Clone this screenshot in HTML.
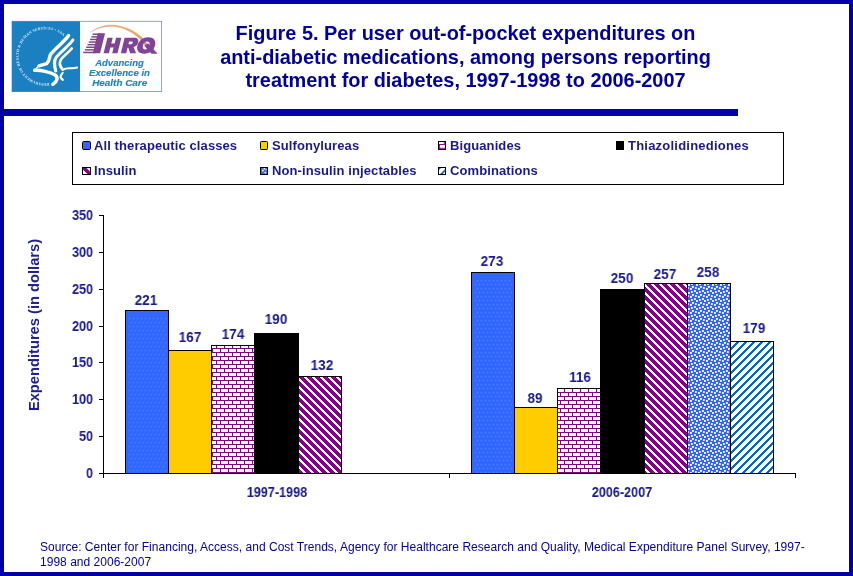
<!DOCTYPE html>
<html>
<head>
<meta charset="utf-8">
<title>Figure 5</title>
<style>
html,body{margin:0;padding:0;}
body{width:853px;height:576px;position:relative;overflow:hidden;background:#fff;font-family:"Liberation Sans",sans-serif;}
.frame{position:absolute;left:0;top:0;width:845px;height:568px;border:4px solid #0000a8;}
.hbar{position:absolute;left:0;top:109px;width:738px;height:7px;background:#0000a8;}
.title{position:absolute;left:0;width:931px;top:21.8px;text-align:center;font-weight:bold;font-size:19.9px;line-height:23.6px;color:#0000a0;white-space:nowrap;}
.legend{position:absolute;left:72px;top:132px;width:710px;height:51px;border:1px solid #000;}
.lg{position:absolute;font-weight:bold;font-size:13px;color:#1a1a90;white-space:nowrap;line-height:14px;letter-spacing:0.1px;}
.sw{position:absolute;width:7px;height:7px;border:1px solid #000;}
.tick{position:absolute;font-weight:bold;font-size:14px;color:#1a1a90;white-space:nowrap;line-height:14px;width:40px;text-align:right;transform-origin:100% 50%;transform:scaleX(0.9);}
.dl{position:absolute;font-weight:bold;font-size:14px;color:#1a1a90;white-space:nowrap;line-height:14px;width:44px;text-align:center;transform:scaleX(0.96);}
.cat{position:absolute;font-weight:bold;font-size:14px;color:#1a1a90;white-space:nowrap;line-height:14px;width:120px;text-align:center;transform:scaleX(0.9);}
.ytitle{position:absolute;font-weight:bold;font-size:14.7px;color:#1e1e96;white-space:nowrap;line-height:16px;width:200px;height:16px;text-align:center;left:-66.5px;top:316.5px;transform:rotate(-90deg);}
.src{position:absolute;left:40px;top:539.5px;font-size:12px;line-height:14.6px;color:#0000a0;white-space:nowrap;letter-spacing:0.02px;}
svg{position:absolute;left:0;top:0;}
.title,.lg,.tick,.dl,.cat,.ytitle,.src,#logo{will-change:transform;}
</style>
</head>
<body>
<div class="frame"></div>
<div class="hbar"></div>

<div class="title">Figure 5. Per user out-of-pocket expenditures on<br>anti-diabetic medications, among persons reporting<br>treatment for diabetes, 1997-1998 to 2006-2007</div>

<!-- logo -->
<svg id="logo" width="170" height="100" viewBox="0 0 170 100" style="left:0;top:0;">
<defs>
<linearGradient id="arcg" x1="0" y1="0" x2="1" y2="0">
<stop offset="0" stop-color="#dba6b4"/><stop offset="0.4" stop-color="#ecb070"/><stop offset="0.8" stop-color="#e8a868"/><stop offset="1" stop-color="#dc8890"/>
</linearGradient>
<path id="ring" d="M 49.3,83 A 27,27 0 1 1 64.6,37.2"/>
</defs>
<rect x="12" y="21.3" width="149.6" height="70.3" fill="#fff" stroke="#4d9fd6" stroke-width="0.8"/>
<rect x="12" y="21.3" width="68" height="70.4" fill="#1b80c2"/>
<text font-family="Liberation Serif" font-size="3.7" font-weight="bold" fill="#dcebf7" textLength="108" lengthAdjust="spacing"><textPath href="#ring" textLength="108" lengthAdjust="spacing">DEPARTMENT OF HEALTH &amp; HUMAN SERVICES &#8226; USA</textPath></text>
<g transform="translate(28,28) scale(0.11111)" fill="none" stroke="#fff" stroke-linecap="round" stroke-linejoin="round">
<path d="M366,68 C330,120 250,180 207,232 C187,262 199,296 168,320 L100,340" stroke-width="31"/>
<path d="M404,108 C370,160 290,215 251,268 C231,298 236,330 249,386" stroke-width="28"/>
<path d="M394,184 C370,215 320,250 296,285 C280,312 286,345 312,374" stroke-width="24"/>
<path d="M316,374 C350,350 400,372 442,356" stroke-width="19"/>
<path d="M60,381 C110,378 200,395 243,422 C273,445 266,478 224,508" stroke-width="31"/>
<path d="M312,404 C295,425 279,445 314,466" stroke-width="19"/>
<path d="M100,340 L60,378" stroke-width="14"/>
</g>
<!-- arc -->
<path d="M90.4,32.4 C96,27.3 104,24.8 112,24.9 C124,25.2 135.5,31 142,37.6 C144,39.7 145.8,42.2 147.3,44.4 L145,45.2 C143.4,43 141.8,41 140.1,39.2 C133.8,33 123.5,26.9 112,26.5 C104,26.3 96.5,28.4 90.4,32.4 Z" fill="url(#arcg)" stroke="url(#arcg)" stroke-width="0.25"/>
<!-- AHRQ -->
<g transform="translate(0,53.25) skewX(-14) translate(0,-53.25)" fill="#814494">
<!-- A right leg -->
<rect x="92.8" y="33.3" width="7.3" height="19.95"/>
<!-- H -->
<rect x="103.6" y="37.8" width="5.3" height="15.45"/><rect x="112.2" y="37.8" width="5.3" height="15.45"/><rect x="107" y="43.4" width="7" height="4"/>
<!-- R -->
<g transform="translate(-1.2,0)"><path fill-rule="evenodd" d="M122,37.8 H131.8 C134.9,37.8 136.7,39.6 136.7,42.6 C136.7,45 135.4,46.6 133.2,47.1 L137.3,53.25 H131.4 L128.2,47.8 H127.4 V53.25 H122 Z M127.4,41.4 V44.2 H130 C131.1,44.2 131.3,43.6 131.3,42.8 C131.3,42 131,41.4 130,41.4 Z"/></g>
<!-- Q ring -->
<path fill-rule="evenodd" d="M144.3,37.2 C149.6,37.2 153.1,40.5 153.1,45.5 C153.1,50.5 149.6,53.7 144.3,53.7 C139,53.7 135.5,50.5 135.5,45.5 C135.5,40.5 139,37.2 144.3,37.2 Z M144.3,41.6 C142.2,41.6 141,43.1 141,45.5 C141,47.9 142.2,49.4 144.3,49.4 C146.4,49.4 147.6,47.9 147.6,45.5 C147.6,43.1 146.4,41.6 144.3,41.6 Z"/>
</g>
<!-- Q tail -->
<path d="M144.2,45.8 L148.2,43.2 L157.6,53.8 H151.6 Z" fill="#814494"/>
<!-- A stripes -->
<g fill="#814494">
<rect x="92.6" y="33.5" width="8" height="1.5"/>
<rect x="91.4" y="36.1" width="8" height="1.5"/>
<rect x="90.1" y="38.7" width="8.5" height="1.5"/>
<rect x="88.8" y="41.3" width="9" height="1.5"/>
<rect x="87.5" y="43.9" width="9.5" height="1.5"/>
<rect x="86.2" y="46.5" width="10" height="1.5"/>
<rect x="84.9" y="49.1" width="10.5" height="1.5"/>
<rect x="83.2" y="51.7" width="12" height="1.55"/>
</g>
<g fill="#1f84c4" stroke="#1f84c4" stroke-width="0.15" font-family="Liberation Sans" font-weight="bold" font-style="italic" font-size="9.8">
<text x="95.2" y="66" textLength="48.6" lengthAdjust="spacingAndGlyphs">Advancing</text>
<text x="89" y="76" textLength="61" lengthAdjust="spacingAndGlyphs">Excellence in</text>
<text x="92.2" y="85.9" textLength="55" lengthAdjust="spacingAndGlyphs">Health Care</text>
</g>
</svg>

<!-- chart -->
<svg id="chart" width="853" height="576" viewBox="0 0 853 576" shape-rendering="crispEdges">
<defs>
<pattern id="pDots" width="8" height="8" patternUnits="userSpaceOnUse" x="0" y="6">
  <rect width="8" height="8" fill="#3366ff"/>
  <g fill="#3399f0" shape-rendering="geometricPrecision"><rect x="0.8" y="0" width="1.2" height="1.2"/><rect x="4.8" y="0" width="1.2" height="1.2"/><rect x="2.8" y="4" width="1.2" height="1.2"/><rect x="6.8" y="4" width="1.2" height="1.2"/></g>
</pattern>
<pattern id="pDots2" href="#pDots" y="0"/>
<pattern id="pBrick" width="8" height="8" patternUnits="userSpaceOnUse" x="0" y="0">
  <rect width="8" height="8" fill="#fff"/>
  <rect x="0" y="0" width="8" height="1" fill="#800080"/>
  <rect x="0" y="4" width="8" height="1" fill="#800080"/>
  <rect x="0" y="0" width="1" height="4" fill="#800080"/>
  <rect x="4" y="4" width="1" height="4" fill="#800080"/>
</pattern>
<pattern id="pDown" width="8" height="8" patternUnits="userSpaceOnUse" x="0" y="7">
  <rect width="8" height="8" fill="#fff"/>
  <path d="M0,0 L5,0 L13,8 L8,8 Z M-8,0 L-3,0 L5,8 L0,8 Z" fill="#850088"/>
</pattern>
<pattern id="pUp" width="8" height="8" patternUnits="userSpaceOnUse" x="2" y="5">
  <rect width="8" height="8" fill="#fff"/>
  <path d="M-1,8 L2,8 L10,0 L7,0 Z" fill="#0066d0"/>
  <path d="M-9,8 L-6,8 L2,0 L-1,0 Z" fill="#0066d0"/>
  <path d="M7,8 L10,8 L18,0 L15,0 Z" fill="#0066d0"/>
</pattern>
<pattern id="pPct" width="8" height="8" patternUnits="userSpaceOnUse" x="0" y="0">
  <rect width="8" height="8" fill="#2f62ff"/>
  <g fill="#fff" shape-rendering="geometricPrecision"><rect x="0.03" y="4.04" width="1.85" height="1.85"/><rect x="3.98" y="6.00" width="1.85" height="1.85"/><rect x="-1.06" y="-0.86" width="1.85" height="1.85"/><rect x="-1.06" y="7.13" width="1.85" height="1.85"/><rect x="6.94" y="-0.86" width="1.85" height="1.85"/><rect x="6.94" y="7.13" width="1.85" height="1.85"/><rect x="2.00" y="-0.03" width="1.85" height="1.85"/><rect x="2.00" y="7.97" width="1.85" height="1.85"/><rect x="5.95" y="2.08" width="1.85" height="1.85"/><rect x="2.97" y="3.08" width="1.85" height="1.85"/></g>
</pattern>
</defs>
<!-- bars group 1 -->
<g stroke="#000" stroke-width="1">
<rect x="125.5" y="310.5" width="43" height="163" fill="#3366ff"/><rect x="128" y="317" width="38" height="156" fill="url(#pDots)" stroke="none"/>
<rect x="168.5" y="350.5" width="43" height="123" fill="#ffcc00"/>
<rect x="211.5" y="345.5" width="43" height="128" fill="url(#pBrick)"/>
<rect x="254.5" y="333.5" width="44" height="140" fill="#000"/>
<rect x="298.5" y="376.5" width="43" height="97" fill="url(#pDown)"/>
<!-- group 2 -->
<rect x="471.5" y="272.5" width="43" height="201" fill="#3366ff"/><rect x="474" y="280" width="38" height="193" fill="url(#pDots2)" stroke="none"/>
<rect x="514.5" y="407.5" width="43" height="66" fill="#ffcc00"/>
<rect x="557.5" y="388.5" width="43" height="85" fill="url(#pBrick)"/>
<rect x="600.5" y="289.5" width="44" height="184" fill="#000"/>
<rect x="644.5" y="283.5" width="43" height="190" fill="url(#pDown)"/>
<rect x="687.5" y="283.5" width="43" height="190" fill="url(#pPct)"/>
<rect x="730.5" y="341.5" width="43" height="132" fill="url(#pUp)"/>
</g>
<!-- legend swatches -->
<g shape-rendering="auto">
<rect x="82.5" y="141.5" width="8" height="8" rx="1.2" fill="#3366ff" stroke="#000"/>
<rect x="260.5" y="141.5" width="7" height="8" rx="0.8" fill="#ffcc00" stroke="#000"/>
<rect x="438.5" y="141.5" width="7" height="8" fill="#fff" stroke="#000"/>
<path d="M439,144.5 H445 M439,148.3 H445 M439.6,144.5 V148.5 M444.3,142 V144.5" stroke="#990099" stroke-width="1" fill="none"/>
<rect x="616" y="141" width="8" height="9" fill="#000"/>
<rect x="82.5" y="167.5" width="8" height="7" fill="#fff" stroke="#000"/>
<path d="M83,168 H86.5 L90,171.5 V174 H87.5 L83,169.8 Z" fill="#880088"/>
<rect x="260.5" y="167.5" width="7" height="7" fill="#3366ff" stroke="#000"/>
<rect x="262" y="169.8" width="1.6" height="1.6" fill="#fff"/>
<rect x="264.6" y="171.8" width="1.6" height="1.6" fill="#fff"/>
<rect x="263.6" y="168" width="1.6" height="1.4" fill="#fff"/>
<rect x="265.6" y="169" width="1.2" height="1.2" fill="#dde6ff"/>
<rect x="438.5" y="167.5" width="7" height="7" fill="#fff" stroke="#000"/>
<path d="M439,168 H441 L439,170 Z M440.2,174 L445,169.2 V171.6 L442.6,174 Z" fill="#0066d0"/>
</g>
<!-- axes -->
<g fill="#000">
<rect x="103" y="215" width="1" height="259"/>
<rect x="103" y="473" width="692.6" height="1"/>
<rect x="99" y="215" width="4" height="1"/>
<rect x="99" y="252" width="4" height="1"/>
<rect x="99" y="289" width="4" height="1"/>
<rect x="99" y="326" width="4" height="1"/>
<rect x="99" y="362" width="4" height="1"/>
<rect x="99" y="399" width="4" height="1"/>
<rect x="99" y="436" width="4" height="1"/>
<rect x="99" y="473" width="4" height="1"/>
<rect x="103" y="474" width="1" height="4"/>
<rect x="449" y="474" width="1" height="4"/>
<rect x="795" y="474" width="1" height="4"/>
</g>
</svg>

<!-- tick labels -->
<div class="tick" style="left:53px;top:208px;">350</div>
<div class="tick" style="left:53px;top:245px;">300</div>
<div class="tick" style="left:53px;top:282px;">250</div>
<div class="tick" style="left:53px;top:319px;">200</div>
<div class="tick" style="left:53px;top:355px;">150</div>
<div class="tick" style="left:53px;top:392px;">100</div>
<div class="tick" style="left:53px;top:429px;">50</div>
<div class="tick" style="left:53px;top:466px;">0</div>

<!-- data labels -->
<div class="dl" style="left:123.5px;top:293px;">221</div>
<div class="dl" style="left:167.7px;top:330px;">167</div>
<div class="dl" style="left:210.8px;top:327px;">174</div>
<div class="dl" style="left:254px;top:312px;">190</div>
<div class="dl" style="left:299.8px;top:358px;">132</div>

<div class="dl" style="left:470px;top:254px;">273</div>
<div class="dl" style="left:513.3px;top:390.5px;">89</div>
<div class="dl" style="left:557.5px;top:369.7px;">116</div>
<div class="dl" style="left:600px;top:271px;">250</div>
<div class="dl" style="left:643px;top:267px;">257</div>
<div class="dl" style="left:686px;top:265px;">258</div>
<div class="dl" style="left:732px;top:321px;">179</div>

<div class="cat" style="left:216.7px;top:485px;">1997-1998</div>
<div class="cat" style="left:562px;top:485px;">2006-2007</div>

<div class="ytitle">Expenditures (in dollars)</div>

<!-- legend -->
<div class="legend"></div>
<div class="lg" style="left:94px;top:139.2px;">All therapeutic classes</div>
<div class="lg" style="left:272px;top:139.2px;">Sulfonylureas</div>
<div class="lg" style="left:450px;top:139.2px;">Biguanides</div>
<div class="lg" style="left:628px;top:139.2px;letter-spacing:0.22px;">Thiazolidinediones</div>
<div class="lg" style="left:94px;top:164.2px;">Insulin</div>
<div class="lg" style="left:272px;top:164.2px;">Non-insulin injectables</div>
<div class="lg" style="left:450px;top:164.2px;">Combinations</div>

<div class="src">Source: Center for Financing, Access, and Cost Trends, Agency for Healthcare Research and Quality, Medical Expenditure Panel Survey, 1997-<br>1998 and 2006-2007</div>

</body>
</html>
